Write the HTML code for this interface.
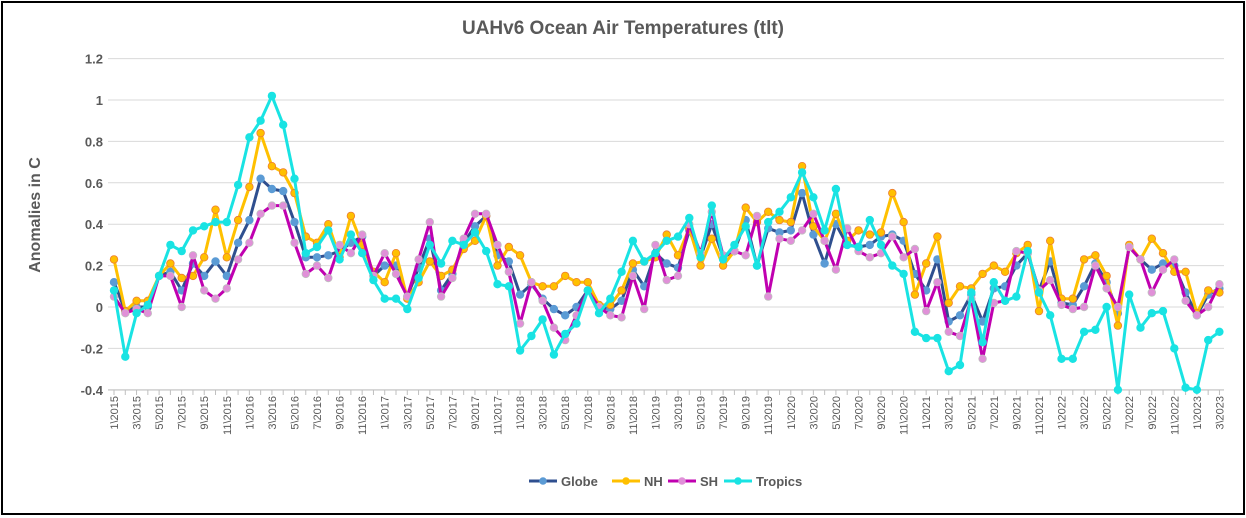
<!DOCTYPE html>
<html><head><meta charset="utf-8"><style>
html,body{margin:0;padding:0;background:#fff;}
body{width:1246px;height:518px;overflow:hidden;position:relative;font-family:"Liberation Sans",sans-serif;}
#frame{position:absolute;left:1px;top:1px;width:1240px;height:510px;border:2px solid #000;}
</style></head><body>
<div id="frame"></div>
<svg id="c" width="1246" height="518" style="position:absolute;left:0;top:0" font-family="Liberation Sans, sans-serif"></svg>
<script>
var T=[0.08,-0.24,-0.03,0.01,0.15,0.30,0.27,0.37,0.39,0.41,0.41,0.59,0.82,0.90,1.02,0.88,0.62,0.26,0.29,0.37,0.23,0.35,0.26,0.13,0.04,0.04,-0.01,0.14,0.30,0.21,0.32,0.30,0.36,0.27,0.11,0.10,-0.21,-0.14,-0.06,-0.23,-0.13,-0.08,0.08,-0.03,0.04,0.17,0.32,0.22,0.26,0.32,0.34,0.43,0.24,0.49,0.23,0.30,0.39,0.20,0.41,0.46,0.53,0.65,0.53,0.37,0.57,0.30,0.29,0.42,0.30,0.20,0.16,-0.12,-0.15,-0.15,-0.31,-0.28,0.07,-0.17,0.12,0.03,0.05,0.27,0.07,-0.04,-0.25,-0.25,-0.12,-0.11,0.00,-0.40,0.06,-0.10,-0.03,-0.02,-0.20,-0.39,-0.40,-0.16,-0.12];
var N=[0.23,-0.02,0.03,0.03,0.15,0.21,0.14,0.15,0.24,0.47,0.24,0.42,0.58,0.84,0.68,0.65,0.55,0.34,0.31,0.40,0.24,0.44,0.30,0.17,0.12,0.26,0.04,0.12,0.22,0.15,0.18,0.28,0.32,0.44,0.20,0.29,0.25,0.12,0.10,0.10,0.15,0.12,0.12,0.01,0.01,0.08,0.21,0.22,0.24,0.35,0.25,0.38,0.20,0.33,0.20,0.27,0.48,0.41,0.46,0.42,0.41,0.68,0.39,0.32,0.45,0.32,0.37,0.35,0.36,0.55,0.41,0.06,0.21,0.34,0.02,0.10,0.09,0.16,0.20,0.17,0.26,0.30,-0.02,0.32,0.04,0.04,0.23,0.25,0.15,-0.09,0.30,0.23,0.33,0.26,0.17,0.17,-0.03,0.08,0.07];
var S=[0.05,-0.03,-0.01,-0.03,0.15,0.15,0.00,0.25,0.08,0.04,0.09,0.23,0.31,0.45,0.49,0.49,0.31,0.16,0.20,0.14,0.30,0.26,0.35,0.15,0.26,0.16,0.05,0.23,0.41,0.05,0.14,0.33,0.45,0.45,0.30,0.17,-0.08,0.12,0.03,-0.10,-0.16,-0.04,0.08,0.00,-0.04,-0.05,0.15,-0.01,0.30,0.13,0.15,0.40,0.26,0.46,0.25,0.27,0.25,0.44,0.05,0.33,0.32,0.37,0.45,0.32,0.18,0.38,0.27,0.24,0.26,0.34,0.24,0.28,-0.02,0.12,-0.12,-0.14,0.04,-0.25,0.02,0.03,0.27,0.26,0.08,0.13,0.01,-0.01,0.00,0.20,0.09,0.00,0.29,0.23,0.07,0.18,0.23,0.03,-0.04,0.00,0.11];
var G=[0.12,-0.02,0.00,0.00,0.15,0.17,0.08,0.21,0.15,0.22,0.15,0.31,0.42,0.62,0.57,0.56,0.41,0.24,0.24,0.25,0.27,0.31,0.34,0.15,0.20,0.20,0.05,0.19,0.33,0.08,0.16,0.31,0.39,0.44,0.25,0.22,0.06,0.11,0.04,-0.01,-0.04,0.00,0.08,0.00,-0.01,0.03,0.18,0.10,0.26,0.21,0.19,0.37,0.24,0.40,0.24,0.27,0.42,0.20,0.38,0.36,0.37,0.55,0.35,0.21,0.40,0.30,0.29,0.30,0.34,0.35,0.32,0.16,0.08,0.23,-0.07,-0.04,0.06,-0.07,0.09,0.10,0.20,0.26,0.08,0.22,0.02,0.01,0.10,0.21,0.12,-0.03,0.29,0.23,0.18,0.21,0.20,0.07,-0.04,0.06,0.09];
var svg=document.getElementById('c'),h='';
function X(i){return 114+i*11.28;}function Y(v){return 307-v*207;}
for(var k=-2;k<=6;k++){var y=Y(k*0.2);h+='<line x1="108" x2="1224" y1="'+y+'" y2="'+y+'" stroke="#d9d9d9" stroke-width="1"/>';
h+='<text x="103" y="'+(y+5)+'" text-anchor="end" font-size="13" font-weight="bold" fill="#595959">'+(Math.round(k*2)/10)+'</text>';}
h+='<line x1="108" x2="1224" y1="390" y2="390" stroke="#bfbfbf"/>';
for(var i=0;i<99;i++){var x=X(i);h+='<line x1="'+x+'" x2="'+x+'" y1="390" y2="395" stroke="#bfbfbf"/>';
if(i%2==0){var m=(i%12)+1,yr=2015+Math.floor(i/12);h+='<text transform="translate('+(x+4)+',396) rotate(-90)" text-anchor="end" font-size="11" fill="#595959">'+m+'\\'+yr+'</text>';}}
function ser(d,lc,mf,ms){var p='';for(var i=0;i<d.length;i++)p+=(i?'L':'M')+X(i).toFixed(1)+' '+Y(d[i]).toFixed(1);
h+='<path d="'+p+'" fill="none" stroke="'+lc+'" stroke-width="3" stroke-linejoin="round"/>';
for(var i=0;i<d.length;i++)h+='<circle cx="'+X(i).toFixed(1)+'" cy="'+Y(d[i]).toFixed(1)+'" r="3.8" fill="'+mf+'" stroke="'+ms+'" stroke-width="0.8"/>';}
ser(G,'#2F4F8F','#5B9BD5','#5B9BD5');
ser(N,'#FFC000','#FFC000','#ED7D31');
ser(S,'#C000B0','#E090D8','#BFBFBF');
ser(T,'#19E3E3','#19E3E3','#19E3E3');
h+='<text x="623" y="34" text-anchor="middle" font-size="19" font-weight="bold" fill="#595959">UAHv6 Ocean Air Temperatures (tlt)</text>';
h+='<text transform="translate(40,215) rotate(-90)" text-anchor="middle" font-size="16" font-weight="bold" fill="#595959">Anomalies in C</text>';
var L=[['Globe','#2F4F8F','#5B9BD5',529],['NH','#FFC000','#FFC000',612],['SH','#C000B0','#E090D8',668],['Tropics','#19E3E3','#19E3E3',724]];
L.forEach(function(l){h+='<line x1="'+l[3]+'" x2="'+(l[3]+28)+'" y1="481" y2="481" stroke="'+l[1]+'" stroke-width="3"/><circle cx="'+(l[3]+14)+'" cy="481" r="3.8" fill="'+l[2]+'"/><text x="'+(l[3]+32)+'" y="486" font-size="13" font-weight="bold" fill="#595959">'+l[0]+'</text>';});
svg.innerHTML=h;
</script>
</body></html>
